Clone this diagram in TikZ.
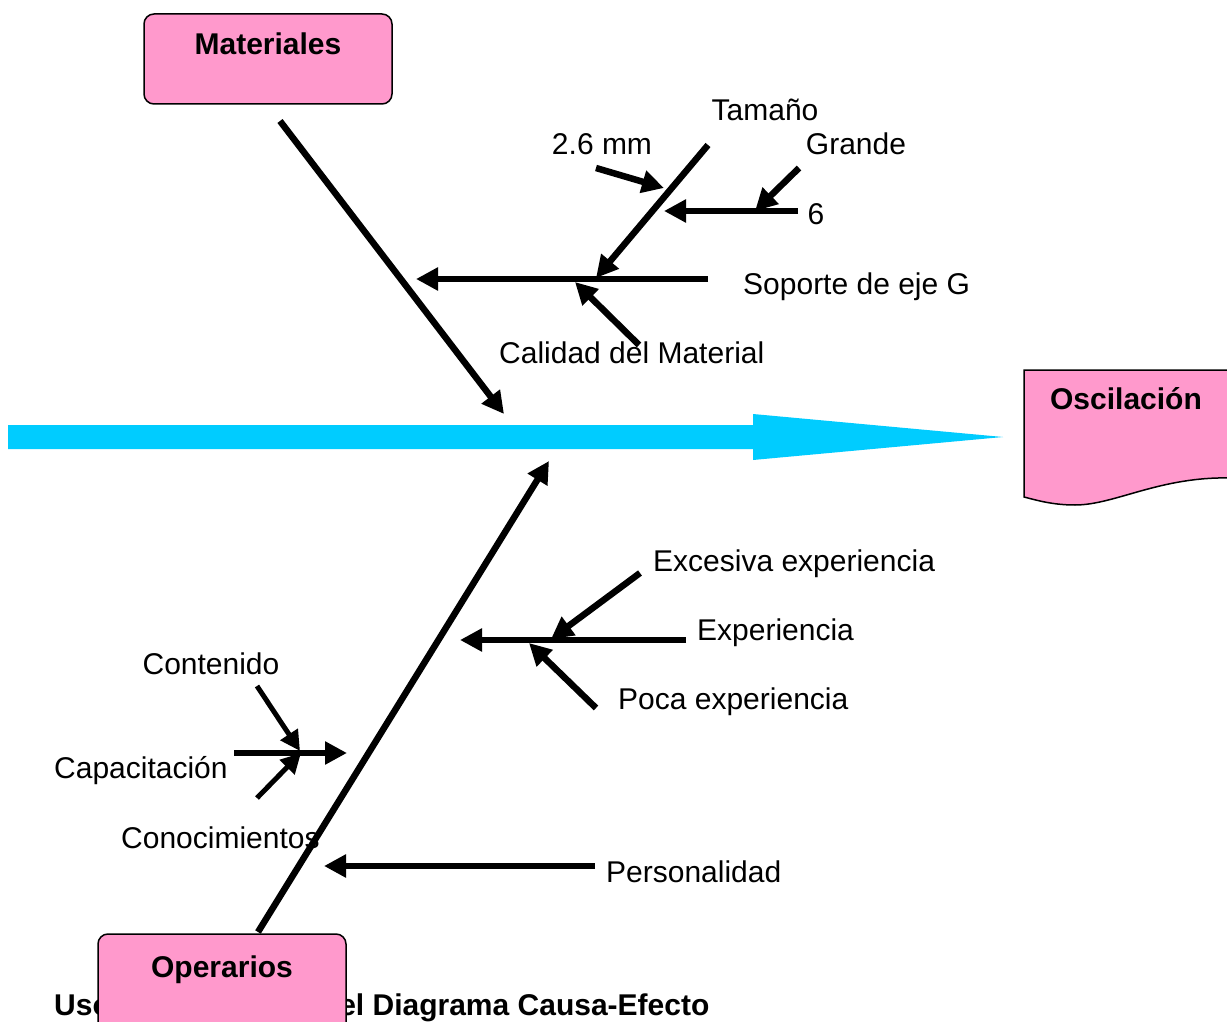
\documentclass[tikz,border=0pt]{standalone}
\usepackage{fontspec}
\setmainfont{Liberation Sans}
\usetikzlibrary{arrows.meta}
\definecolor{boxpink}{HTML}{FF99CC}
\definecolor{spine}{HTML}{00CCFF}
\tikzset{
  bone/.style={line width=6.5pt, -{Triangle[length=22pt,width=22pt]}},
  twig/.style={line width=5pt, -{Triangle[length=20pt,width=20pt]}},
  lbl/.style={inner sep=0pt, font=\fontsize{30}{36}\selectfont},
  title/.style={inner sep=0pt, font=\fontsize{30}{36}\selectfont\bfseries},
  headbox/.style={draw=black, line width=1.5pt, fill=boxpink, rounded corners=10pt}
}
\begin{document}
\begin{tikzpicture}[x=1pt,y=-1pt]
\useasboundingbox (0,0) rectangle (1227,1022);
\fill[white] (0,0) rectangle (1227,1022);

% main spine
\fill[spine] (8,425) -- (753,425) -- (753,414) -- (1003,437) -- (753,460)
  -- (753,449) -- (8,449) -- cycle;

% effect box
\draw[line width=1.5pt, fill=boxpink] (1024,370) -- (1232,370) -- (1232,478)
  .. controls (1160,476) and (1115,505) .. (1075,505)
  .. controls (1052,505) and (1036,500) .. (1024,497) -- cycle;
\node[title, anchor=base] (osc) at (1126,409) {Oscilación};

% Materiales branch
\draw[headbox] (144,14) rectangle (392,104);
\node[title, anchor=base] (mat) at (268,55) {Materiales};
\coordinate (matS) at (280,121);
\coordinate (matE) at (504,414);
\draw[bone] (matS) -- (matE);

\coordinate (sopS) at (708,279);
\coordinate (sopE) at (416,279);
\draw[bone] (sopS) -- (sopE);
\node[lbl, anchor=base west] (sop) at (743,294) {Soporte de eje G};

\coordinate (tamS) at (708,145);
\coordinate (tamE) at (596,278);
\draw[bone] (tamS) -- (tamE);
\node[lbl, anchor=base] (tam) at (765,121) {Tamaño};

\coordinate (mmS) at (596,168);
\coordinate (mmE) at (664,188);
\draw[bone] (mmS) -- (mmE);
\node[lbl, anchor=base] (mm) at (602,155) {2.6 mm};

\coordinate (seisS) at (798,211);
\coordinate (seisE) at (664,211);
\draw[bone] (seisS) -- (seisE);
\node[lbl, anchor=base] (seis) at (816,224) {6};

\coordinate (graS) at (799,168);
\coordinate (graE) at (755,211);
\draw[bone] (graS) -- (graE);
\node[lbl, anchor=base] (gra) at (856,155) {Grande};

\coordinate (calS) at (639,345);
\coordinate (calE) at (575,282);
\draw[bone] (calS) -- (calE);
\node[lbl, anchor=base west] (cal) at (499,363) {Calidad del Material};

% Operarios branch
\node[title, anchor=base west] (pie) at (54,1015) {Usos y Aplicación del Diagrama Causa-Efecto};

\coordinate (opeS) at (258,932);
\coordinate (opeE) at (549,461);
\draw[bone] (opeS) -- (opeE);

\coordinate (expS) at (686,640);
\coordinate (expE) at (460,640);
\draw[bone] (expS) -- (expE);
\node[lbl, anchor=base west] (exp) at (697,640) {Experiencia};

\coordinate (excS) at (640,573);
\coordinate (excE) at (551,639);
\draw[bone] (excS) -- (excE);
\node[lbl, anchor=base west] (exc) at (653,571) {Excesiva experiencia};

\coordinate (pocS) at (596,708);
\coordinate (pocE) at (529,643);
\draw[bone] (pocS) -- (pocE);
\node[lbl, anchor=base west] (poc) at (618,709) {Poca experiencia};

\coordinate (capS) at (234,753);
\coordinate (capE) at (347,753);
\draw[bone] (capS) -- (capE);
\node[lbl, anchor=base west] (cap) at (54,778) {Capacitación};

\coordinate (conS) at (257,686);
\coordinate (conE) at (300,751);
\draw[twig] (conS) -- (conE);
\node[lbl, anchor=base] (con) at (211,674) {Contenido};

\coordinate (cnoS) at (257,798);
\coordinate (cnoE) at (301,753);
\draw[twig] (cnoS) -- (cnoE);
\node[lbl, anchor=base west] (cno) at (121,848) {Conocimientos};

\coordinate (perS) at (595,866);
\coordinate (perE) at (324,866);
\draw[bone] (perS) -- (perE);
\node[lbl, anchor=base west] (per) at (606,882) {Personalidad};

\draw[headbox] (98,934) rectangle (346,1034);
\node[title, anchor=base] (ope) at (222,977) {Operarios};
\end{tikzpicture}
\end{document}
